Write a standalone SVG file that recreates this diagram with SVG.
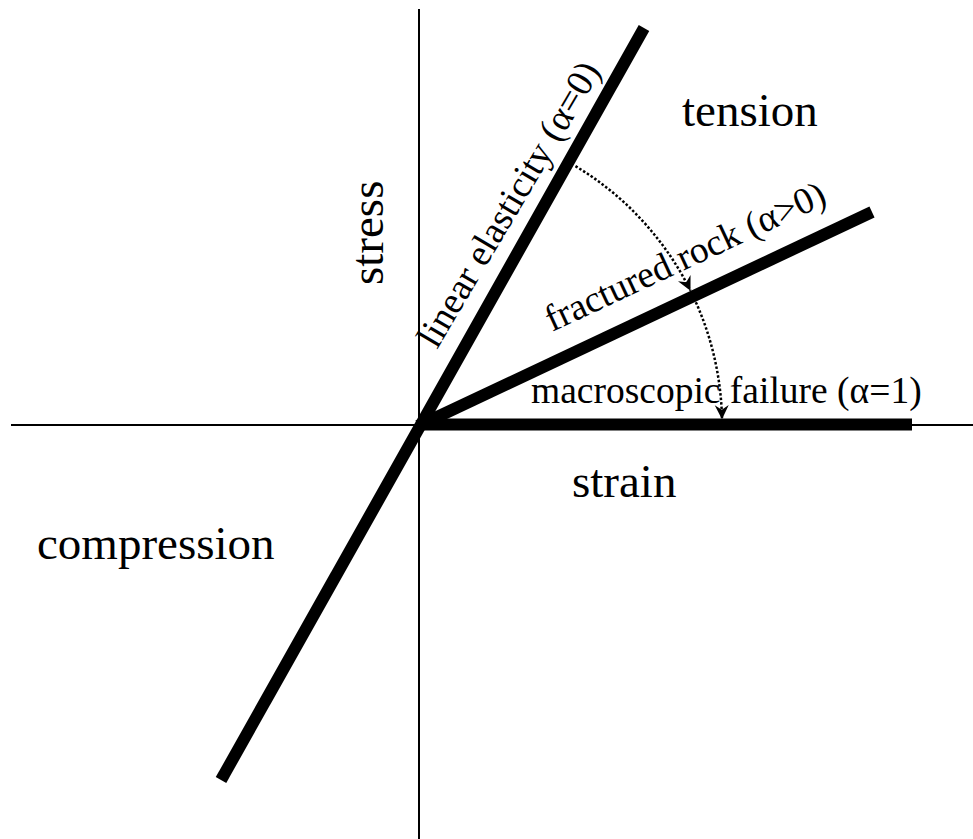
<svg xmlns="http://www.w3.org/2000/svg" width="973" height="839" viewBox="0 0 973 839">
<defs>
<style>
.axis{stroke:#000;stroke-width:2;fill:none}
.thick{stroke:#000;stroke-width:12;fill:none;stroke-linecap:butt}
.dot{stroke:#000;stroke-width:2.5;stroke-dasharray:2.5 2;fill:none}
.big{font-family:"Liberation Serif","Times New Roman",serif;font-size:47px;fill:#000}
.lbl{font-family:"Liberation Serif","Times New Roman",serif;font-size:37.5px;fill:#000}
</style>
<marker id="arr" markerUnits="userSpaceOnUse" markerWidth="16" markerHeight="16" refX="14" refY="7" orient="auto">
<path d="M0,0 L14,7 L0,14 L4.5,7 z" fill="#000"/>
</marker>
</defs>
<rect width="973" height="839" fill="#fff"/>
<g id="axes">
<line class="axis" x1="11" y1="425" x2="973" y2="425"/>
<line class="axis" x1="419" y1="9" x2="419" y2="839"/>
</g>
<g id="connectors">
<line id="linear" class="thick" x1="644" y1="28" x2="221" y2="780"/>
<line id="fractured" class="thick" x1="418" y1="426" x2="872" y2="212"/>
<line id="failure" class="thick" x1="418" y1="424.5" x2="912" y2="424.5"/>
<path class="dot" d="M575.5,166.1 A302,302 0 0 1 690.5,290.7" marker-end="url(#arr)"/>
<path class="dot" d="M695.9,302.2 A302,302 0 0 1 722,419.2" marker-end="url(#arr)"/>
</g>
<g id="labels">
<text class="big" x="682" y="126">tension</text>
<text class="big" x="37" y="559">compression</text>
<text class="big" x="572" y="497">strain</text>
<text class="big" transform="translate(383,285) rotate(-90)">stress</text>
<text class="lbl" transform="translate(437,350) rotate(-59.5)">linear elasticity (α=0)</text>
<text class="lbl" transform="translate(552,332) rotate(-25)">fractured rock (α&gt;0)</text>
<text class="lbl" x="531" y="403">macroscopic failure (α=1)</text>
</g>
</svg>
